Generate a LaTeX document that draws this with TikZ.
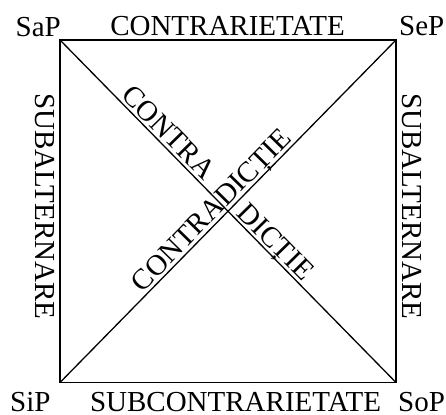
\documentclass[tikz,border=0pt]{standalone}
\usepackage{fontspec}
\setmainfont{Liberation Serif}
\begin{document}
\begin{tikzpicture}[x=1pt,y=1pt,
  edge/.style={line width=1.3pt, black},
  lbl/.style={font=\fontsize{29}{31}\selectfont, inner sep=0pt},
  dlbl/.style={font=\fontsize{29}{31}\selectfont, sloped, text depth=0pt, inner sep=3pt}]
\useasboundingbox (0,0) rectangle (446,414);
\coordinate (TL) at (60,374);
\coordinate (TR) at (396,374);
\coordinate (BL) at (60,31.5);
\coordinate (BR) at (396,31.5);
\draw[edge] (TL) -- (TR) -- (BR) -- (BL) -- cycle;
\draw[edge] (TL) -- (BR)
  node[dlbl, pos=0.296, above] (contra) {CONTRA}
  node[dlbl, pos=0.615, above] (dictie) {DICȚIE};
\draw[edge] (BL) -- (TR)
  node[dlbl, pos=0.477, above] (contradictie) {CONTRADICȚIE};
\node[lbl, anchor=base east] (sap) at (61,377) {SaP};
\node[lbl, anchor=base west] (sep) at (399,378) {SeP};
\node[lbl, anchor=base west] (sip) at (10,2.5) {SiP};
\node[lbl, anchor=base west] (sop) at (398,2.5) {SoP};
\node[lbl, anchor=base] (top) at (227.5,378) {CONTRARIETATE};
\node[lbl, anchor=base] (bottom) at (235.5,2.5) {SUBCONTRARIETATE};
\node[lbl, anchor=base, rotate=-90] (left) at (35,207.5) {SUBALTERNARE};
\node[lbl, anchor=base, rotate=-90] (right) at (402,207.5) {SUBALTERNARE};
\end{tikzpicture}
\end{document}
